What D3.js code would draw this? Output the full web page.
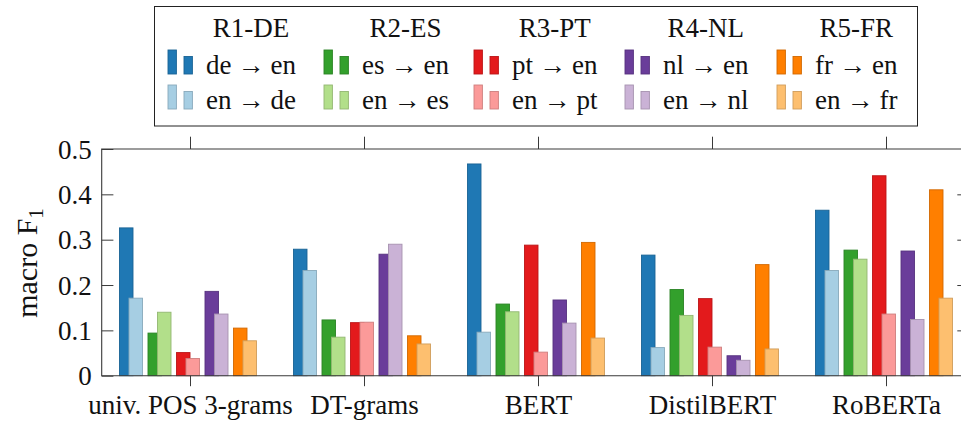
<!DOCTYPE html>
<html>
<head>
<meta charset="utf-8">
<script src="https://cdn.jsdelivr.net/npm/d3@7/dist/d3.min.js"></script>
<style>
  html, body { margin: 0; padding: 0; background: #fff; }
  svg { display: block; }
  svg text { font-family: "Liberation Serif", "DejaVu Serif", serif !important; fill: #111; }
</style>
</head>
<body>
<svg id="chart" width="961" height="421"></svg>
<script>
// Model / feature set on the x axis
const categories = ["univ. POS 3-grams", "DT-grams", "BERT", "DistilBERT", "RoBERTa"];

// Legend column headings (one per language pair)
const groupTitles = ["R1-DE", "R2-ES", "R3-PT", "R4-NL", "R5-FR"];

// Translation directions, in drawing order: [source, target]
const seriesNames = [["de", "en"], ["en", "de"], ["es", "en"], ["en", "es"], ["pt", "en"],
                     ["en", "pt"], ["nl", "en"], ["en", "nl"], ["fr", "en"], ["en", "fr"]];

// macro F1 per direction, one value per category
const deEn = [0.326, 0.279, 0.467, 0.266, 0.365];
const enDe = [0.171, 0.232, 0.096, 0.062, 0.232];
const esEn = [0.094, 0.123, 0.158, 0.190, 0.277];
const enEs = [0.140, 0.085, 0.141, 0.133, 0.257];
const ptEn = [0.051, 0.117, 0.288, 0.170, 0.441];
const enPt = [0.038, 0.118, 0.052, 0.063, 0.136];
const nlEn = [0.186, 0.268, 0.167, 0.044, 0.275];
const enNl = [0.136, 0.290, 0.116, 0.034, 0.124];
const frEn = [0.105, 0.088, 0.294, 0.245, 0.410];
const enFr = [0.077, 0.070, 0.083, 0.059, 0.171];

const yTicks = [0, 0.1, 0.2, 0.3, 0.4, 0.5];

const seriesValues = [deEn, enDe, esEn, enEs, ptEn, enPt, nlEn, enNl, frEn, enFr];
const colors = ["#1f78b4", "#a6cee3", "#33a02c", "#b2df8a", "#e31a1c",
                "#fb9a99", "#6a3d9a", "#cab2d6", "#ff7f00", "#fdbf6f"];

const svg = d3.select("#chart");
const fontSize = 27;
const serif = '"Liberation Serif", "DejaVu Serif", serif';

// Plot frame
const plotLeft = 101.7, plotRight = 969, plotTop = 149, plotBottom = 375.7;

const x = d3.scalePoint().domain(categories).range([190, 886]);
const y = d3.scaleLinear().domain([0, 0.5]).range([plotBottom, plotTop]);

// Bars within a group: pairs of (X -> en, en -> X), partly overlapping
const barW = 13.5, pairStep = 28.5, innerStep = 9.5, groupShift = -2;
const barCenterOffset = s => {
  const p = Math.floor(s / 2), l = s % 2;
  return p * pairStep + l * innerStep - (4 * pairStep + innerStep) / 2 + groupShift;
};

const stroke = c => d3.color(c).darker(0.55).formatHex();

const rows = [];
seriesValues.forEach((vals, s) => {
  vals.forEach((v, i) => rows.push({ s, cat: categories[i], v }));
});

svg.append("g").selectAll("rect")
  .data(rows)
  .join("rect")
  .attr("x", d => x(d.cat) + barCenterOffset(d.s) - barW / 2)
  .attr("y", d => y(d.v))
  .attr("width", barW)
  .attr("height", d => y(0) - y(d.v))
  .attr("fill", d => colors[d.s])
  .attr("stroke", d => stroke(colors[d.s]))
  .attr("stroke-width", 0.9);

// Axes
const axisColor = "#3a3a3a";
function styleAxis(g) {
  g.attr("font-family", serif).attr("font-size", fontSize);
  g.select(".domain").remove();
  g.selectAll(".tick line").attr("stroke", axisColor).attr("stroke-width", 1);
  g.selectAll(".tick text").style("font-family", serif)
    .attr("font-size", fontSize).attr("fill", "#111");
}

svg.append("g")
  .attr("transform", `translate(${plotLeft},0)`)
  .call(d3.axisLeft(y).tickValues(yTicks).tickSize(-11.7).tickPadding(10)
    .tickFormat(d => d === 0 ? "0" : d3.format(".1f")(d)))
  .call(styleAxis)
  .selectAll(".tick text").attr("dy", "0.34em");

svg.append("g")
  .attr("transform", `translate(${plotRight},0)`)
  .call(d3.axisRight(y).tickValues(yTicks.filter(t => t > 0 && t < 0.5)).tickSize(-11.7).tickFormat(""))
  .call(styleAxis);

svg.append("g")
  .attr("transform", `translate(0,${plotBottom})`)
  .call(d3.axisBottom(x).tickSize(10.5).tickPadding(9))
  .call(styleAxis);

svg.append("g")
  .attr("transform", `translate(0,${plotTop})`)
  .call(d3.axisTop(x).tickSize(12.3).tickFormat(""))
  .call(styleAxis);

// Frame lines: left, top, bottom
svg.append("path")
  .attr("d", `M${plotRight},${plotTop}H${plotLeft}V${plotBottom}H${plotRight}`)
  .attr("fill", "none").attr("stroke", axisColor).attr("stroke-width", 1.1);

// Y axis title
const yTitle = svg.append("text")
  .attr("transform", `translate(37,263) rotate(-90)`)
  .attr("text-anchor", "middle")
  .style("font-family", serif)
  .attr("font-size", 30);
yTitle.append("tspan").text("macro F");
yTitle.append("tspan").attr("font-size", 21).attr("dy", 6).text("1");

// Legend
const legend = svg.append("g");
legend.append("rect")
  .attr("x", 154.5).attr("y", 6.5).attr("width", 763).attr("height", 119.5)
  .attr("fill", "#fff").attr("stroke", "#222").attr("stroke-width", 1);

const textStart = [206, 362, 512, 663, 815];
const headerBase = 37, rowBase = [74, 109];

groupTitles.forEach((t, c) => {
  const t0 = textStart[c];
  const col = legend.append("g");
  const texts = [0, 1].map(r => {
    const [src, tgt] = seriesNames[2 * c + r];
    const tx = col.append("text")
      .attr("x", t0).attr("y", rowBase[r])
      .style("font-family", serif)
      .attr("font-size", fontSize);
    tx.append("tspan").text(src);
    tx.append("tspan").attr("dx", 6).text("→");
    tx.append("tspan").attr("dx", 6).text(tgt);
    return tx;
  });
  // the heading is centred over the wider of the two entry texts
  const w = d3.max(texts, tx => tx.node().getComputedTextLength());
  col.append("text")
    .attr("x", t0 + w / 2 + 6).attr("y", headerBase)
    .attr("text-anchor", "middle")
    .style("font-family", serif)
    .attr("font-size", fontSize).text(t);
  [0, 1].forEach(r => {
    const s = 2 * c + r, ix = t0 - 38, b = rowBase[r];
    col.append("rect").attr("x", ix).attr("y", b - 24).attr("width", 8.4).attr("height", 24)
      .attr("fill", colors[s]).attr("stroke", stroke(colors[s])).attr("stroke-width", 0.9);
    col.append("rect").attr("x", ix + 16).attr("y", b - 17.5).attr("width", 8.4).attr("height", 17.5)
      .attr("fill", colors[s]).attr("stroke", stroke(colors[s])).attr("stroke-width", 0.9);
  });
});
</script>
</body>
</html>
